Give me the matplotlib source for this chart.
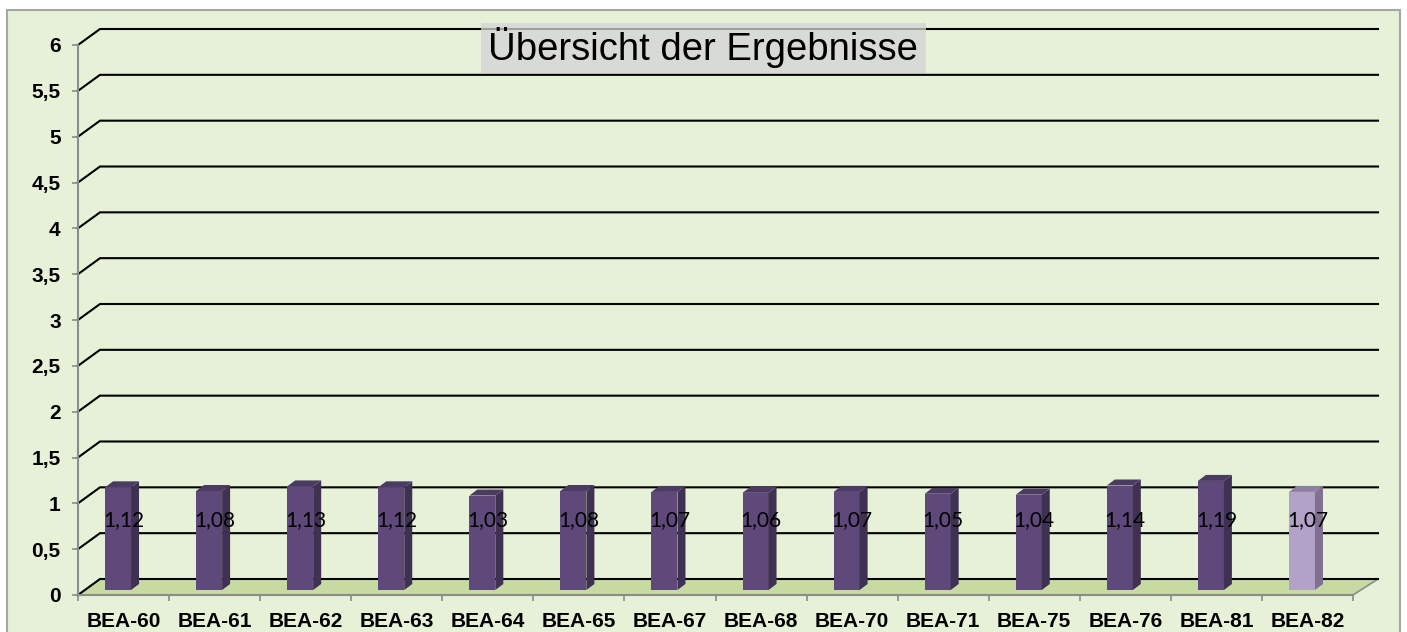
import numpy as np
import matplotlib.pyplot as plt
from matplotlib.patches import Rectangle, Polygon

# chart data
categories = ['BEA-60', 'BEA-61', 'BEA-62', 'BEA-63', 'BEA-64', 'BEA-65', 'BEA-67',
              'BEA-68', 'BEA-70', 'BEA-71', 'BEA-75', 'BEA-76', 'BEA-81', 'BEA-82']
values = [1.12, 1.08, 1.13, 1.12, 1.03, 1.08, 1.07, 1.06, 1.07, 1.05, 1.04, 1.14, 1.19, 1.07]
value_labels = ['1,12', '1,08', '1,13', '1,12', '1,03', '1,08', '1,07',
                '1,06', '1,07', '1,05', '1,04', '1,14', '1,19', '1,07']
yticks = [0, 0.5, 1, 1.5, 2, 2.5, 3, 3.5, 4, 4.5, 5, 5.5, 6]
ytick_labels = ['0', '0,5', '1', '1,5', '2', '2,5', '3', '3,5', '4', '4,5', '5', '5,5', '6']
title = 'Übersicht der Ergebnisse'

W, H = 1407, 632
fig = plt.figure(figsize=(W / 100, H / 100), dpi=100, facecolor='white')

# chart area background with grey border
fig.add_artist(Rectangle((7 / W, -0.02), (1400 - 7) / W, 1 - 10 / H + 0.02,
                         transform=fig.transFigure, facecolor='#E6F1D8',
                         edgecolor='#A6A6A6', lw=1.5, zorder=0))

# plot area placed in pixels
x0, x1, y0, y1 = 78, 1353, 595, 45
ax = fig.add_axes([x0 / W, 1 - y0 / H, (x1 - x0) / W, (y0 - y1) / H])
ax.set_facecolor('none')
n = len(categories)
ax.set_xlim(-0.5, n - 0.5)
ax.set_ylim(0, 6)
ppx = (x1 - x0) / n
ppy = (y0 - y1) / 6.0

def dx(p):
    return p / ppx

def dy(p):
    return p / ppy

# floor
floor = Polygon([(-0.5, 0), (-0.5 + dx(22), dy(16)), (n - 0.5 + dx(25), dy(16)), (n - 0.5, 0)],
                closed=True, facecolor='#C6DAA2', edgecolor='none', zorder=1, clip_on=False)
ax.add_patch(floor)
ax.plot([n - 0.5, n - 0.5 + dx(25)], [0, dy(16)], color='#8C8C8C', lw=1.2, zorder=1.5, clip_on=False)

# back wall gridlines with the 3d side diagonal
for t in yticks:
    ax.plot([-0.5, -0.5 + dx(22), n - 0.5 + dx(25)], [t, t + dy(16), t + dy(16)],
            color='black', lw=1.5, zorder=2, clip_on=False, solid_joinstyle='miter')

# bars
xs = np.arange(n)
bar_w = dx(26)
shift = dx(-5.5)
base = dy(5)
depth_x, depth_y = dx(8), dy(6)
front = ['#5F497A'] * (n - 1) + ['#B3A2C7']
side = ['#3F3151'] * (n - 1) + ['#7F7290']
top = ['#4B3B63'] * (n - 1) + ['#8E80A3']

ax.bar(xs + shift, values, width=bar_w, bottom=base, color=front, zorder=3)
for i, v in enumerate(values):
    xl = xs[i] + shift - bar_w / 2
    xr = xs[i] + shift + bar_w / 2
    yt = base + v
    ax.add_patch(Polygon([(xr, base), (xr + depth_x, base + depth_y),
                          (xr + depth_x, yt + depth_y), (xr, yt)],
                         closed=True, facecolor=side[i], edgecolor='none', zorder=3))
    ax.add_patch(Polygon([(xl, yt), (xr, yt), (xr + depth_x, yt + depth_y), (xl + depth_x, yt + depth_y)],
                         closed=True, facecolor=top[i], edgecolor='none', zorder=3))
    ax.text(xs[i], 0.82, value_labels[i], ha='center', va='center', fontsize=15,
            family='Lato', color='black', zorder=4)

# axes
for s in ['top', 'right']:
    ax.spines[s].set_visible(False)
for s in ['left', 'bottom']:
    ax.spines[s].set_color('#8C8C8C')
    ax.spines[s].set_linewidth(1.5)
    ax.spines[s].set_zorder(2.5)

ax.set_yticks(yticks)
ax.set_yticklabels(ytick_labels)
ax.set_xticks(xs)
ax.set_xticklabels(categories)
ax.set_xticks(np.arange(n + 1) - 0.5, minor=True)
ax.tick_params(axis='y', length=4.5, width=1.2, color='#8C8C8C', pad=8)
ax.tick_params(axis='x', which='major', length=0, pad=12.5)
ax.tick_params(axis='x', which='minor', length=4.5, width=1.2, color='#8C8C8C')
for lab in ax.get_xticklabels():
    lab.set_fontfamily('Liberation Sans')
    lab.set_fontweight('bold')
    lab.set_fontsize(15)
for lab in ax.get_yticklabels():
    lab.set_fontfamily('Liberation Sans')
    lab.set_fontweight('bold')
    lab.set_fontsize(15)

# title with grey box
fig.add_artist(Rectangle((481 / W, 1 - 73 / H), (926 - 481) / W, 50 / H,
                         transform=fig.transFigure, facecolor='#D4D4D4', alpha=0.75,
                         edgecolor='none', zorder=5))
fig.text(703 / W, 1 - 48 / H, title, ha='center', va='center', fontsize=27.5,
         family='Liberation Sans', color='black', zorder=6)

fig.savefig('out.png', dpi=100, facecolor='white')
